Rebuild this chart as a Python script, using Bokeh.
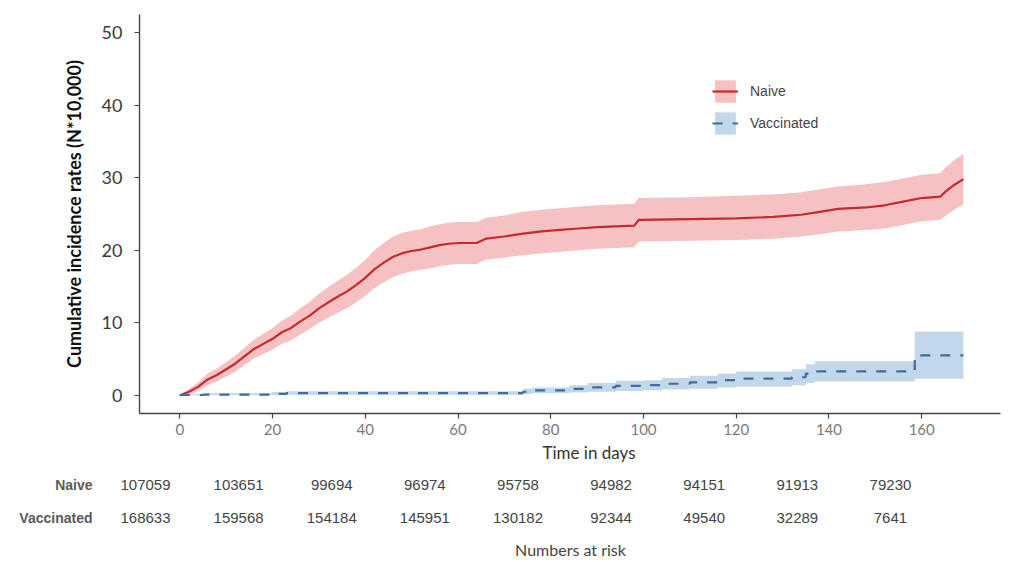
import numpy as np
from bokeh.plotting import figure
from bokeh.layouts import column
from bokeh.models import Range1d, Legend, LegendItem, FixedTicker, ColumnDataSource
from bokeh.core.properties import value
from bokeh.embed import file_html
from bokeh.resources import INLINE

# ---------------- data ----------------
naive_time = [0, 2, 4, 6, 8, 10, 12, 14, 16, 18, 20, 22, 24, 26, 28, 30, 32, 34, 36, 38,
              40, 42, 44, 46, 48, 50, 52, 54, 56, 58, 60, 64, 66, 70, 74, 78, 82, 86, 90,
              94, 98, 99, 110, 120, 128, 134, 138, 142, 148, 152, 156, 160, 164, 165, 167, 169]
naive_est = [0, 0.5, 1.2, 2.2, 2.8, 3.6, 4.4, 5.4, 6.4, 7.1, 7.8, 8.7, 9.3, 10.2, 11.0, 12.0,
             12.8, 13.6, 14.3, 15.2, 16.2, 17.4, 18.3, 19.1, 19.6, 19.9, 20.1, 20.4, 20.7,
             20.9, 21.0, 21.0, 21.6, 21.9, 22.3, 22.6, 22.8, 23.0, 23.2, 23.3, 23.4, 24.2,
             24.3, 24.4, 24.6, 24.9, 25.3, 25.7, 25.9, 26.2, 26.7, 27.2, 27.4, 28.0, 29.0, 29.8]
naive_low = [0, 0.1, 0.6, 1.4, 1.9, 2.6, 3.3, 4.2, 5.1, 5.7, 6.3, 7.1, 7.6, 8.4, 9.1, 10.0,
             10.7, 11.4, 12.0, 12.8, 13.7, 14.8, 15.6, 16.3, 16.8, 17.1, 17.3, 17.5, 17.8,
             18.0, 18.1, 18.1, 18.7, 19.0, 19.3, 19.6, 19.8, 20.0, 20.2, 20.3, 20.4, 21.2,
             21.3, 21.4, 21.6, 21.9, 22.2, 22.6, 22.8, 23.0, 23.5, 24.0, 24.2, 24.7, 25.6, 26.3]
naive_up = [0, 0.9, 1.8, 3.0, 3.7, 4.6, 5.5, 6.6, 7.7, 8.5, 9.3, 10.3, 11.0, 12.0, 12.9, 14.0,
            14.9, 15.8, 16.6, 17.6, 18.7, 20.0, 21.0, 21.9, 22.4, 22.7, 22.9, 23.3, 23.6,
            23.8, 23.9, 23.9, 24.5, 24.8, 25.3, 25.6, 25.8, 26.0, 26.2, 26.3, 26.4, 27.2,
            27.3, 27.5, 27.7, 28.0, 28.4, 28.8, 29.1, 29.4, 29.9, 30.4, 30.6, 31.3, 32.4, 33.3]

vac_time = [0, 5, 20, 23, 74, 76, 84, 88, 94, 100, 104, 110, 116, 120, 132, 135, 137, 158.5]
vac_est = [0.05, 0.1, 0.2, 0.3, 0.5, 0.7, 0.9, 1.1, 1.3, 1.4, 1.6, 1.8, 2.1, 2.3, 2.5, 3.0, 3.3, 5.5]
vac_low = [0, 0, 0.05, 0.08, 0.2, 0.3, 0.4, 0.5, 0.6, 0.7, 0.8, 0.9, 1.1, 1.2, 1.4, 1.7, 1.9, 2.3]
vac_up = [0.2, 0.3, 0.45, 0.55, 0.9, 1.1, 1.4, 1.7, 2.0, 2.1, 2.4, 2.7, 3.0, 3.3, 3.6, 4.3, 4.7, 8.8]
vac_end = 169

groups = ["Naive", "Vaccinated"]
risk_times = [0, 20, 40, 60, 80, 100, 120, 140, 160]
naive_risk = [107059, 103651, 99694, 96974, 95758, 94982, 94151, 91913, 79230]
vacc_risk = [168633, 159568, 154184, 145951, 130182, 92344, 49540, 32289, 7641]

x_ticks = [0, 20, 40, 60, 80, 100, 120, 140, 160]
y_ticks = [0, 10, 20, 30, 40, 50]


def step_after(t, vals, t_end):
    xs, ys = [], []
    t = list(t) + [t_end]
    for i, v in enumerate(vals):
        xs += [t[i], t[i + 1]]
        ys += [v, v]
    return xs, ys


def no_frame_align(fig):
    if "frame_align" in fig.properties():
        fig.frame_align = False


# ---------------- main plot ----------------
p = figure(width=1010, height=443, output_backend="svg", toolbar_location=None,
           x_range=Range1d(-8.7, 177), y_range=Range1d(-2.5, 52.5),
           min_border_left=139, min_border_right=10, min_border_top=14, min_border_bottom=30)
no_frame_align(p)
p.background_fill_color = "white"
p.border_fill_color = "white"
p.outline_line_color = None
p.xgrid.visible = False
p.ygrid.visible = False

band_n = p.varea(x=naive_time, y1=naive_low, y2=naive_up, fill_color="#f5c1c3", fill_alpha=1.0)
vx, vlo = step_after(vac_time, vac_low, vac_end)
_, vup = step_after(vac_time, vac_up, vac_end)
_, vest = step_after(vac_time, vac_est, vac_end)
band_v = p.varea(x=vx, y1=vlo, y2=vup, fill_color="#c3d7eb", fill_alpha=1.0)
line_n = p.line(naive_time, naive_est, line_color="#c62a2e", line_width=2.2)
line_v = p.line(vx, vest, line_color="#3d6e9e", line_width=2.2, line_dash="10 10")

legend = Legend(items=[LegendItem(label="Naive", renderers=[band_n, line_n]),
                       LegendItem(label="Vaccinated", renderers=[band_v, line_v])],
                location=(573, 276))
legend.background_fill_alpha = 0
legend.border_line_alpha = 0
legend.padding = 0
legend.spacing = 4
legend.glyph_width = 26
legend.glyph_height = 28
legend.label_standoff = 12
legend.label_text_font = "Liberation Sans"
legend.label_text_font_size = "14px"
legend.label_text_color = "#444444"
p.add_layout(legend)

for ax in (p.xaxis[0], p.yaxis[0]):
    ax.axis_line_color = "#444444"
    ax.axis_line_width = 1.4
    ax.major_tick_line_color = "#444444"
    ax.major_tick_line_width = 1.2
    ax.major_tick_out = 5
    ax.major_tick_in = 0
    ax.minor_tick_line_color = None

p.xaxis.ticker = FixedTicker(ticks=x_ticks)
p.yaxis.ticker = FixedTicker(ticks=y_ticks)
p.xaxis.major_label_text_font = "Lato"
p.xaxis.major_label_text_font_size = "15px"
p.xaxis.major_label_text_color = "#7a7a7a"
p.xaxis.major_label_standoff = 5

p.yaxis.major_label_text_font = "Lato"
p.yaxis.major_label_text_font_size = "18px"
p.yaxis.major_label_text_color = "#3a3a3a"
p.yaxis.major_label_standoff = 12
p.yaxis.axis_label = "Cumulative incidence rates (N*10,000)"
p.yaxis.axis_label_text_font = "Lato"
p.yaxis.axis_label_text_font_size = "18px"
p.yaxis.axis_label_text_font_style = "bold"
p.yaxis.axis_label_text_color = "#111111"
p.yaxis.axis_label_standoff = 14

# ---------------- risk table (separate panel, as in the original) ----------------
t = figure(width=1010, height=115, output_backend="svg", toolbar_location=None,
           x_range=Range1d(-31.14, 185.78), y_range=Range1d(115, 0),
           min_border_left=0, min_border_right=0, min_border_top=0, min_border_bottom=0)
no_frame_align(t)
t.axis.visible = False
t.xgrid.visible = False
t.ygrid.visible = False
t.outline_line_color = None
t.background_fill_color = "white"
t.border_fill_color = "white"

t.text(x=[95.25], y=[9], text=["Time in days"], text_font=value("Lato"),
       text_font_size="17px", text_color="#333333", text_align="center",
       text_baseline="middle")

src_n = ColumnDataSource(dict(x=risk_times, txt=[str(v) for v in naive_risk]))
src_v = ColumnDataSource(dict(x=risk_times, txt=[str(v) for v in vacc_risk]))
num_style = dict(text_font=value("Liberation Sans"), text_font_size="15px",
                 text_color="#444444", text_align="center", text_baseline="middle")
t.text(x="x", y=41, text="txt", source=src_n, **num_style)
t.text(x="x", y=74, text="txt", source=src_v, **num_style)
lab_style = dict(text_font=value("Liberation Sans"), text_font_size="14px",
                 text_font_style="bold", text_color="#5a5a5a", text_align="right",
                 text_baseline="middle")
t.text(x=[-11.38], y=[41], text=[groups[0]], **lab_style)
t.text(x=[-11.38], y=[74], text=[groups[1]], **lab_style)
t.text(x=[91.28], y=[106], text=["Numbers at risk"], text_font=value("Lato"),
       text_font_size="16px", text_color="#444444", text_align="center",
       text_baseline="middle")

layout = column(p, t, spacing=0)
open("out.html", "w").write(file_html(layout, INLINE))
